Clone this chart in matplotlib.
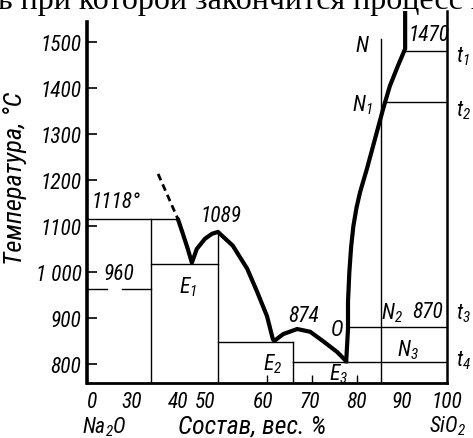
import matplotlib
matplotlib.use('Agg')
import matplotlib.pyplot as plt
from matplotlib import font_manager


def first_font(names):
    for name in names:
        try:
            font_manager.findfont(name, fallback_to_default=False)
            return name
        except ValueError:
            pass
    return 'DejaVu Sans'


# narrow italic lettering as in the book; fall back to something not too wide
FONT = first_font(['Liberation Sans Narrow', 'DejaVu Sans Condensed', 'Roboto Condensed', 'Roboto'])
FS = 15.5 if ('Narrow' in FONT or 'Condensed' in FONT) else 13
plt.rcParams['font.family'] = [FONT, 'DejaVu Sans']
plt.rcParams['font.style'] = 'italic'
plt.rcParams['font.size'] = FS
plt.rcParams['mathtext.fontset'] = 'custom'
plt.rcParams['mathtext.rm'] = FONT + ':italic'
plt.rcParams['mathtext.it'] = FONT + ':italic'
plt.rcParams['mathtext.default'] = 'rm'

# composition axis: 0 % (pure Na2O) is drawn at position 20, the 0..30 part is squeezed
# ---------------------------------------------------------------------------------
# liquidus, dashed continuation above 1118
dash_x = [35.8, 40.2]
dash_y = [1213, 1115]
# liquidus through E1, 1089, E2, 874 down to E3
liq_x = [40.2, 41.3, 42.4, 43.3, 44.4, 46.2, 47.8, 49.1, 52.4, 55.6, 57.8, 60.0,
         61.3, 61.6, 63.6, 66.7, 69.6, 72.4, 75.6, 77.6]
liq_y = [1115, 1083, 1050, 1020, 1050, 1072, 1083, 1087, 1057, 1007, 957, 904,
         854, 850, 865, 876, 870, 850, 826, 806]
# SiO2 branch from E3 up to 1470 and above
sio2_x = [77.6, 78.0, 78.0, 78.3, 78.7, 79.2, 79.9, 80.7, 82.2, 84.0, 85.8, 87.3, 89.1, 90.7, 90.7]
sio2_y = [806, 876, 935, 1000, 1055, 1100, 1140, 1174, 1224, 1289, 1354, 1404, 1448, 1485, 1570]

# isotherms: (temperature, from composition, to composition)
isotherms = [(1115, 20.0, 40.2), (963, 20.0, 24.4), (963, 27.8, 34.2),
             (1017, 34.2, 49.1), (848, 49.1, 65.8), (804, 65.8, 100.0),
             (880, 78.0, 100.0), (1370, 85.9, 100.0), (1480, 90.7, 100.0)]
# verticals: (composition, top temperature)
verticals = [(34.2, 1115), (49.1, 1087), (65.8, 848), (85.4, 1506)]

y_ticks = [800, 900, 1000, 1100, 1200, 1300, 1400, 1500]
y_labels = ['800', '900', '1 000', '1100', '1200', '1300', '1400', '1500']
x_labels = ['0', '30', '40', '50', '60', '70', '80', '90', '100']
x_label_pos = [21.1, 30, 40.2, 46.2, 59.1, 69.6, 79.8, 90, 100]
x_minor = [30, 60, 70, 80, 90]

W, H = 473, 439
fig = plt.figure(figsize=(W / 100, H / 100), dpi=100)
ax = fig.add_axes([87 / W, 1 - 384 / H, 360 / W, 372 / H])
ymin, ymax = 758.7, 1567
ax.set_xlim(20, 100)
ax.set_ylim(ymin, ymax)

thin = dict(color='black', lw=1.0)
for t, a, b in isotherms:
    ax.plot([a, b], [t, t], **thin)
for x, top in verticals:
    ax.plot([x, x], [ymin, top], **thin)

ax.plot(dash_x, dash_y, color='black', lw=2.0, dashes=(2.5, 1.6))
ax.plot(liq_x, liq_y, color='black', lw=3.0, solid_joinstyle='round', solid_capstyle='round')
ax.plot(sio2_x, sio2_y, color='black', lw=3.0, solid_joinstyle='round')

ax.spines['top'].set_visible(False)
ax.spines['left'].set_linewidth(2.6)
ax.spines['left'].set_bounds(ymin, 1543)
ax.spines['bottom'].set_linewidth(2.0)
ax.spines['right'].set_linewidth(1.8)

ax.set_yticks(y_ticks)
ax.set_yticklabels(y_labels)
ax.tick_params(axis='y', direction='in', length=7, width=1.2, pad=4)
ax.set_xticks(x_label_pos)
ax.set_xticklabels(x_labels)
ax.set_xticks(x_minor, minor=True)
ax.tick_params(axis='x', which='major', length=0, pad=6)
ax.tick_params(axis='x', which='minor', direction='in', length=5.5, width=1.0)

notes = [('1118°', 21.1, 1154, 'left'), ('1089', 49.8, 1122, 'center'),
         ('960', 27.1, 996, 'center'), ('$E_1$', 42.4, 970, 'center'),
         ('874', 68.2, 906, 'center'), ('O', 75.6, 876, 'center'),
         ('$E_2$', 61.3, 802, 'center'), ('$E_3$', 76.0, 780, 'center'),
         ('N', 81.1, 1493, 'center'), ('$N_1$', 81.1, 1365, 'center'),
         ('1470', 96.0, 1515, 'center'), ('$N_2$', 87.8, 913, 'center'),
         ('870', 95.6, 913, 'center'), ('$N_3$', 91.3, 833, 'center'),
         ('$t_1$', 103.6, 1470, 'center'), ('$t_2$', 103.6, 1352, 'center'),
         ('$t_3$', 103.6, 911, 'center'), ('$t_4$', 103.6, 809, 'center')]
for s, x, y, ha in notes:
    ax.text(x, y, s, ha=ha, va='center', fontsize=FS, clip_on=False)

fig.text(104 / W, 1 - 427 / H, '$Na_2O$', ha='center', va='center', fontsize=FS)
fig.text(448 / W, 1 - 426 / H, '$SiO_2$', ha='center', va='center', fontsize=FS)
fig.text(252 / W, 1 - 427 / H, 'Состав, вес. %', ha='center', va='center', fontsize=FS + 3)
fig.text(15 / W, 1 - 178 / H, 'Температура, °C', ha='center', va='center',
         rotation=90, fontsize=FS + 3.5)
# cut-off line of book text above the figure
fig.text(-0.005, 1 - 9 / H, 'ь при которой закончится процесс к', ha='left',
         va='baseline', fontsize=23, family='Liberation Serif', style='normal')

fig.savefig('out.png', dpi=100)
